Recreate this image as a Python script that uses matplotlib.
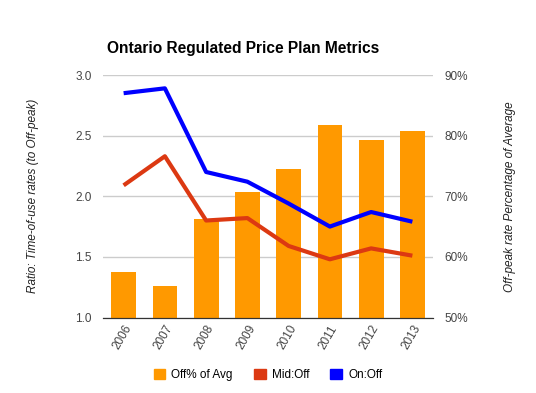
import matplotlib
matplotlib.use('Agg')
import matplotlib.pyplot as plt
from matplotlib.patches import Patch
from matplotlib.ticker import FuncFormatter
import numpy as np

years = ['2006', '2007', '2008', '2009', '2010', '2011', '2012', '2013']
off_pct = [57.5, 55.2, 66.2, 70.7, 74.5, 81.7, 79.3, 80.8]
mid_off = [2.09, 2.33, 1.80, 1.82, 1.59, 1.48, 1.57, 1.51]
on_off = [2.85, 2.89, 2.20, 2.12, 1.94, 1.75, 1.87, 1.79]

ORANGE = '#ff9900'
RED = '#dc3912'
BLUE = '#0000ff'

plt.rcParams['font.family'] = ['Liberation Sans', 'DejaVu Sans']

fig = plt.figure(figsize=(5.36, 3.93), dpi=100)
ax = fig.add_axes([103 / 536, 1 - 317.5 / 393, 330 / 536, 242.5 / 393])
ax2 = ax.twinx()
x = np.arange(len(years))

# bars on the right-hand percentage scale
ax.bar(x, off_pct, width=0.6, color=ORANGE, zorder=2)
ax.set_ylim(50, 90)
ax.set_yticks([50, 60, 70, 80, 90])
ax.yaxis.set_major_formatter(FuncFormatter(lambda v, p: '%d%%' % v))
ax.grid(axis='y', color='#cccccc', lw=1)
ax.set_axisbelow(True)
ax.set_xlim(-0.5, len(years) - 0.5)
ax.set_xticks(x)
ax.set_xticklabels(years, rotation=60, ha='right', rotation_mode='anchor')

# lines on the left-hand ratio scale
ax2.plot(x, mid_off, color=RED, lw=3, solid_capstyle='butt')
ax2.plot(x, on_off, color=BLUE, lw=3, solid_capstyle='butt')
ax2.set_ylim(1.0, 3.0)
ax2.set_yticks([1.0, 1.5, 2.0, 2.5, 3.0])
ax2.yaxis.set_major_formatter(FuncFormatter(lambda v, p: '%.1f' % v))

# swap sides: ratio scale on the left, percentages on the right
ax.yaxis.tick_right()
ax.yaxis.set_label_position('right')
ax2.yaxis.tick_left()
ax2.yaxis.set_label_position('left')
ax.set_ylabel('Off-peak rate Percentage of Average', style='italic',
              fontsize=8.5, color='#222222', labelpad=26)
ax2.set_ylabel('Ratio: Time-of-use rates (to Off-peak)', style='italic',
               fontsize=8.5, color='#222222', labelpad=26)

for a in (ax, ax2):
    for s in ('top', 'left', 'right'):
        a.spines[s].set_visible(False)
    a.spines['bottom'].set_color('#333333')
    a.tick_params(length=0, labelsize=8.5, labelcolor='#444444', pad=8)
ax.tick_params(axis='x', pad=4)

fig.text(107 / 536, 1 - 48 / 393, 'Ontario Regulated Price Plan Metrics',
         fontsize=11.2, fontweight='bold', va='center', ha='left')

handles = [Patch(color=ORANGE, label='Off% of Avg'),
           Patch(color=RED, label='Mid:Off'),
           Patch(color=BLUE, label='On:Off')]
fig.legend(handles=handles, loc='center', bbox_to_anchor=(0.5, 1 - 375 / 393),
           ncol=3, frameon=False, fontsize=8.5, handlelength=1.0, handleheight=1.0,
           handletextpad=0.5, columnspacing=1.8)

fig.savefig('out.png', dpi=100)
